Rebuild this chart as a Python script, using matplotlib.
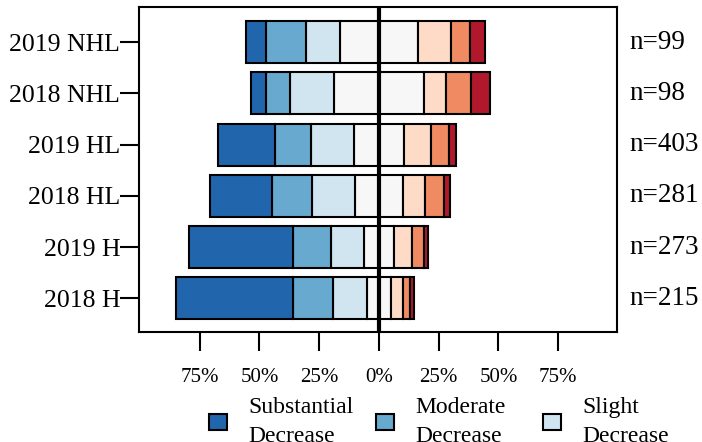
import matplotlib.pyplot as plt
from matplotlib.patches import Patch

plt.rcParams['font.family'] = ['Liberation Serif', 'DejaVu Serif']

# rows, top to bottom
groups = ['2019 NHL', '2018 NHL', '2019 HL', '2018 HL', '2019 H', '2018 H']
n_resp = [99, 98, 403, 281, 273, 215]

# percentages per response level
substantial_dec = [8.2, 6.3, 23.9, 25.8, 43.4, 49.2]
moderate_dec = [17.0, 10.0, 15.3, 16.9, 16.1, 16.8]
slight_dec = [14.2, 18.4, 18.0, 17.9, 13.7, 14.0]
no_change = [32.4, 37.6, 20.6, 19.9, 12.5, 10.1]
slight_inc = [13.9, 9.3, 11.6, 9.5, 7.7, 5.0]
moderate_inc = [8.1, 10.4, 7.5, 7.7, 5.1, 3.1]
substantial_inc = [6.2, 8.0, 2.9, 2.5, 1.5, 1.7]

level_names = ['Substantial\nDecrease', 'Moderate\nDecrease', 'Slight\nDecrease',
               'No\nChange', 'Slight\nIncrease', 'Moderate\nIncrease',
               'Substantial\nIncrease']
colors = ['#2166ac', '#67a9cf', '#d1e5f0', '#f7f7f7', '#fddbc7', '#ef8a62', '#b2182b']

tick_vals = [-75, -50, -25, 0, 25, 50, 75]
tick_labels = ['75%', '50%', '25%', '0%', '25%', '50%', '75%']

fig = plt.figure(figsize=(7.02, 4.42), dpi=100)
ax = fig.add_axes([0.1987, 0.2489, 0.6802, 0.7353])

ypos = list(range(len(groups)))[::-1]
bar_kw = dict(height=0.82, edgecolor='black', linewidth=1.5)

# negative side: half of "no change", then the decrease levels going outward
left_side = [[v / 2 for v in no_change], slight_dec, moderate_dec, substantial_dec]
left_cols = [colors[3], colors[2], colors[1], colors[0]]
start = [0.0] * len(groups)
for vals, c in zip(left_side, left_cols):
    start = [s - v for s, v in zip(start, vals)]
    ax.barh(ypos, vals, left=start, color=c, **bar_kw)

# positive side
right_side = [[v / 2 for v in no_change], slight_inc, moderate_inc, substantial_inc]
right_cols = [colors[3], colors[4], colors[5], colors[6]]
start = [0.0] * len(groups)
for vals, c in zip(right_side, right_cols):
    ax.barh(ypos, vals, left=start, color=c, **bar_kw)
    start = [s + v for s, v in zip(start, vals)]

ax.axvline(0, color='black', linewidth=3, zorder=5)

ax.set_xlim(-100.2, 99.6)
ax.set_ylim(-0.66, 5.69)
ax.set_xticks(tick_vals)
ax.set_xticklabels(tick_labels, fontsize=15)
ax.set_yticks(ypos)
ax.set_yticklabels(groups, fontsize=18.5)
ax.tick_params(axis='x', direction='out', length=14, width=1.5, pad=12)
ax.tick_params(axis='y', direction='out', length=14, width=1.5, pad=0)
for sp in ax.spines.values():
    sp.set_linewidth(1.5)

for y, n in zip(ypos, n_resp):
    ax.text(1.025, y, f'n={n}', transform=ax.get_yaxis_transform(),
            ha='left', va='center', fontsize=19.5)

# legend: 3 columns, first row holds the three decrease levels,
# the other rows fall below the figure edge like in the original
order = [0, 3, 4, 1, 6, 2, 5]
handles = [Patch(facecolor=colors[k], edgecolor='black', linewidth=1.5) for k in order]
labels = [level_names[k] for k in order]
leg = fig.legend(handles, labels, ncol=3, loc='upper left',
                 bbox_to_anchor=(0.2977, 0.101), frameon=False, fontsize=17,
                 handlelength=0.76, handleheight=0.64, handletextpad=0.89,
                 columnspacing=0.97, borderaxespad=0, borderpad=0)
for t in leg.get_texts():
    t.set_linespacing(1.5)

fig.savefig('out.png', dpi=100)
